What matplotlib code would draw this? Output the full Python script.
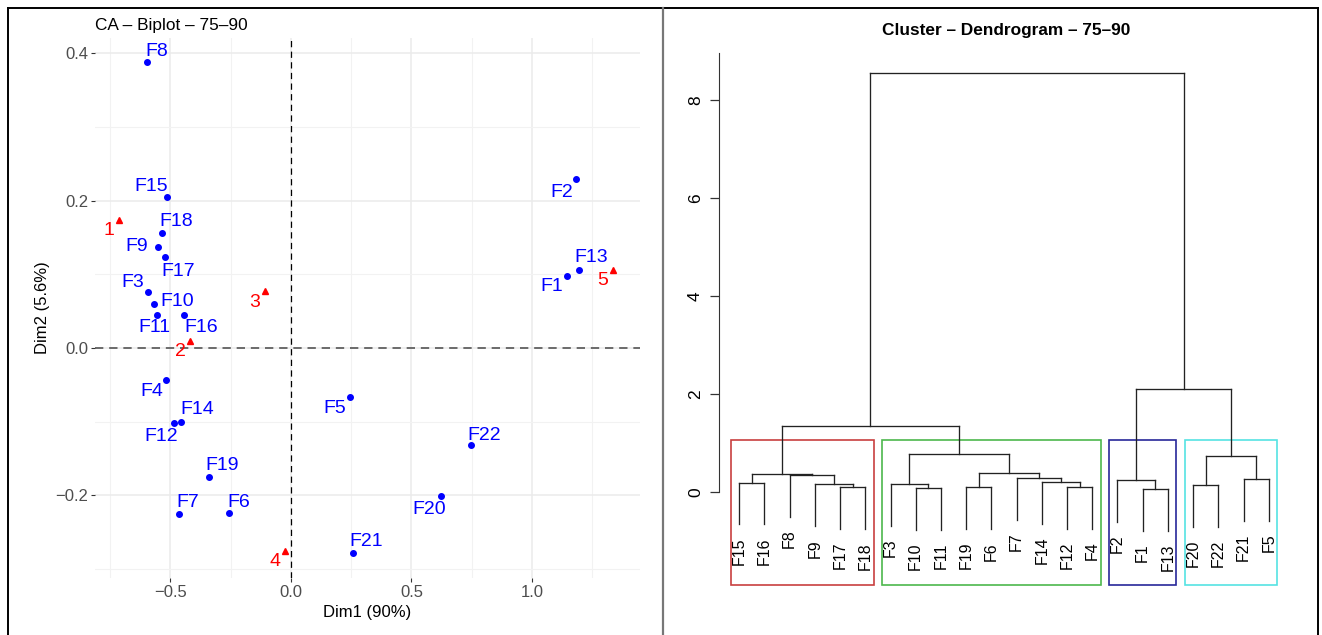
import matplotlib
matplotlib.use("Agg")
import matplotlib.pyplot as plt
from matplotlib.lines import Line2D
from matplotlib.patches import Rectangle

plt.rcParams['font.family'] = ['Liberation Sans', 'DejaVu Sans']

# CA coordinates of the rows (F1..F22) and the columns (1..5)
row_names = ["F1", "F2", "F3", "F4", "F5", "F6", "F7", "F8", "F9", "F10", "F11",
             "F12", "F13", "F14", "F15", "F16", "F17", "F18", "F19", "F20", "F21", "F22"]
row_dim1 = [1.145, 1.183, -0.595, -0.519, 0.245, -0.257, -0.465, -0.598, -0.552, -0.568, -0.556,
            -0.485, 1.195, -0.456, -0.515, -0.444, -0.523, -0.535, -0.340, 0.622, 0.257, 0.747]
row_dim2 = [0.098, 0.229, 0.076, -0.043, -0.066, -0.224, -0.225, 0.388, 0.137, 0.060, 0.045,
            -0.102, 0.106, -0.100, 0.205, 0.045, 0.123, 0.156, -0.175, -0.201, -0.278, -0.132]

col_names = ["1", "2", "3", "4", "5"]
col_dim1 = [-0.714, -0.419, -0.108, -0.025, 1.336]
col_dim2 = [0.174, 0.010, 0.077, -0.275, 0.106]

# where each label sits relative to its point (pixels), like a repel layout
row_label_shift = {
    "F1": (-15, -11), "F2": (-14, -13), "F3": (-15, 10), "F4": (-14, -12), "F5": (-15, -12),
    "F6": (10, 11), "F7": (9, 11), "F8": (10, 11), "F9": (-21, 1), "F10": (23, 2),
    "F11": (-3, -13), "F12": (-13, -13), "F13": (12, 12), "F14": (16, 12), "F15": (-16, 10),
    "F16": (17, -13), "F17": (13, -14), "F18": (14, 12), "F19": (13, 12), "F20": (-12, -13),
    "F21": (13, 11), "F22": (13, 10),
}
col_label_shift = (-10, -11)

# hierarchical clustering: (left, right, merge height)
red_group = (("F15", "F16", 0.19), ("F8", ("F9", ("F17", "F18", 0.095), 0.157), 0.347), 0.367)
green_group = (("F3", ("F10", "F11", 0.075), 0.163),
               (("F19", "F6", 0.095), ("F7", ("F14", ("F12", "F4", 0.10), 0.204), 0.286), 0.388), 0.78)
blue_group = ("F2", ("F1", "F13", 0.061), 0.245)
cyan_group = (("F20", "F22", 0.136), ("F21", "F5", 0.265), 0.735)
tree = ((red_group, green_group, 1.35), (blue_group, cyan_group, 2.10), 8.56)

cluster_sizes = [6, 9, 3, 4]
cluster_colors = ["#C8403F", "#4DB84D", "#28289A", "#55E3E3"]

W, H = 1322, 635
fig = plt.figure(figsize=(W / 100, H / 100), dpi=100)


def frac(x0, y0, x1, y1):
    # pixel box (top-left origin) -> figure fraction rect
    return [x0 / W, 1 - y1 / H, (x1 - x0) / W, (y1 - y0) / H]


# ---------- left: CA biplot ----------
ax = fig.add_axes(frac(95, 38, 640, 578))
ax.set_xlim(-0.813, 1.448)
ax.set_ylim(-0.312, 0.4206)
for s in ax.spines.values():
    s.set_visible(False)
ax.set_xticks([-0.5, 0.0, 0.5, 1.0])
ax.set_yticks([-0.2, 0.0, 0.2, 0.4])
ax.set_xticks([-0.75, -0.25, 0.25, 0.75, 1.25], minor=True)
ax.set_yticks([-0.3, -0.1, 0.1, 0.3], minor=True)
ax.grid(True, which='major', color='#EBEBEB', lw=1.1)
ax.grid(True, which='minor', color='#F2F2F2', lw=0.8)
ax.set_axisbelow(True)
ax.tick_params(which='major', length=3, width=0.8, color='#333333', labelcolor='#4D4D4D',
               labelsize=12, pad=2)
ax.tick_params(which='minor', length=0)

ax.axhline(0, color='#555555', lw=1.2, ls=(0, (5, 3.5)))
ax.axvline(0, color='black', lw=0.9, ls=(0, (5, 3.5)))

ax.plot(row_dim1, row_dim2, 'o', color='blue', ms=4, zorder=3)
ax.plot(col_dim1, col_dim2, '^', color='red', ms=4, zorder=3)
for name, x, y in zip(row_names, row_dim1, row_dim2):
    ax.annotate(name, (x, y), xytext=row_label_shift[name], textcoords='offset pixels',
                ha='center', va='center', color='blue', fontsize=14)
for name, x, y in zip(col_names, col_dim1, col_dim2):
    ax.annotate(name, (x, y), xytext=col_label_shift, textcoords='offset pixels',
                ha='center', va='center', color='red', fontsize=14)

ax.set_xlabel("Dim1 (90%)", fontsize=12, labelpad=4)
ax.set_ylabel("Dim2 (5.6%)", fontsize=12, labelpad=4)
ax.set_title("CA – Biplot – 75–90", loc='left', fontsize=12.4, pad=6)

# ---------- right: dendrogram ----------
dx = fig.add_axes(frac(719, 53, 1290, 585))
dx.set_xlim(0.2, 22.84)
dx.set_ylim(-1.898, 8.96)
for k in ["top", "right", "bottom"]:
    dx.spines[k].set_visible(False)
dx.spines["left"].set_bounds(0, 8.96)
dx.spines["left"].set_color('#333333')
dx.set_xticks([])
dx.set_yticks([0, 2, 4, 6, 8])
dx.tick_params(axis='y', length=6.5, width=0.9, color='#333333', labelsize=12.5, pad=5)
for lab in dx.get_yticklabels():
    lab.set_rotation(90)
    lab.set_va('center')

heights = []


def collect(node):
    if isinstance(node, str):
        return
    heights.append(node[2])
    collect(node[0])
    collect(node[1])


collect(tree)
hang = 0.1 * (max(heights) - min(heights))
leaf_count = [0]
line_kw = dict(color='#222222', lw=0.95)


def draw(node):
    # returns (x position, top y, leaf name) for the node
    if isinstance(node, str):
        leaf_count[0] += 1
        return leaf_count[0], None, node
    left, right, h = node
    xl, yl, nl = draw(left)
    xr, yr, nr = draw(right)
    for xc, yc, nc in ((xl, yl, nl), (xr, yr, nr)):
        if yc is None:
            yc = h - hang
            dx.annotate(nc, (xc, yc), xytext=(0, -13), textcoords='offset pixels',
                        rotation=90, ha='center', va='top', fontsize=11.5)
        dx.plot([xc, xc], [yc, h], **line_kw)
    dx.plot([xl, xr], [h, h], **line_kw)
    return (xl + xr) / 2, h, None


draw(tree)

# boxes around the four clusters
top_h = sorted(heights, reverse=True)
rect_top = (top_h[2] + top_h[3]) / 2
start = 0
for size, col in zip(cluster_sizes, cluster_colors):
    x0 = start + 0.66
    x1 = start + size + 0.33
    dx.add_patch(Rectangle((x0, -1.898), x1 - x0, rect_top + 1.898, fill=False,
                           edgecolor=col, lw=1.2, clip_on=False))
    start += size

fig.text(1006 / W, 1 - 31 / H, "Cluster – Dendrogram – 75–90", ha='center', va='center',
         fontsize=12.4, fontweight='bold')

# outer frame and panel divider
fig.add_artist(Line2D([8 / W, 1318 / W], [1 - 8 / H, 1 - 8 / H], color='black', lw=1.4))
fig.add_artist(Line2D([8 / W, 8 / W], [0, 1 - 8 / H], color='black', lw=1.4))
fig.add_artist(Line2D([1318 / W, 1318 / W], [0, 1 - 8 / H], color='black', lw=1.4))
fig.add_artist(Line2D([663 / W, 663 / W], [0, 1 - 8 / H], color='#777777', lw=1.6))

fig.savefig("out.png", dpi=100)
